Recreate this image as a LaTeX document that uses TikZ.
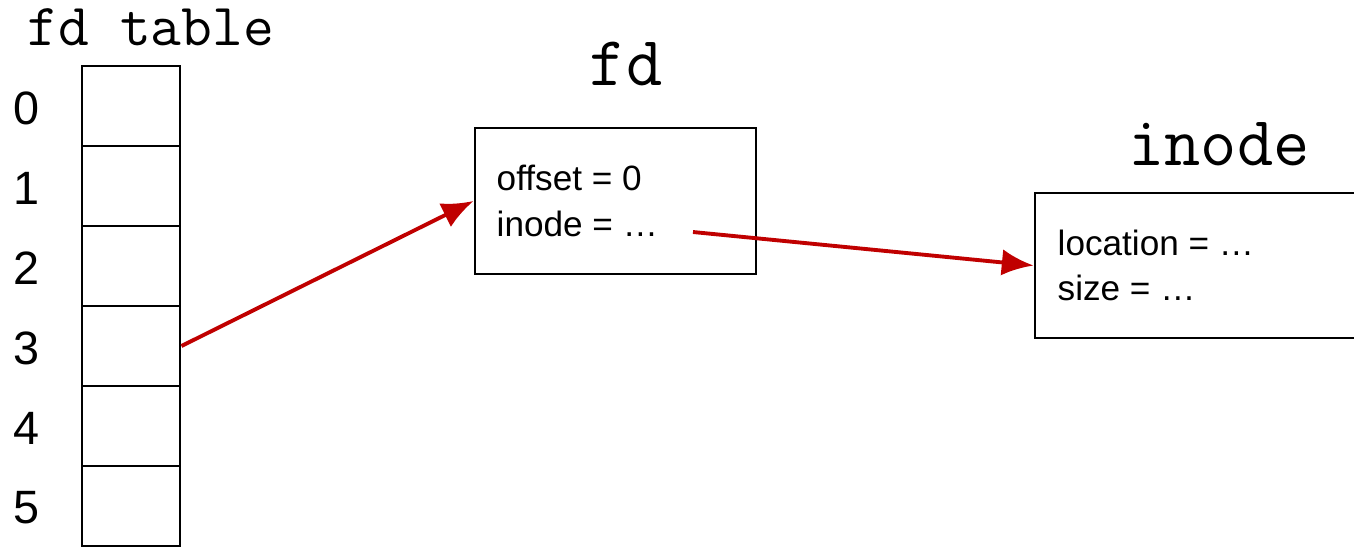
\documentclass[tikz,border=0pt]{standalone}
\usepackage{fontspec}
\setmainfont{Liberation Sans}
\usetikzlibrary{arrows.meta}
\definecolor{ink}{HTML}{000000}
\definecolor{ptr}{HTML}{C00000}

\begin{document}
\begin{tikzpicture}[x=0.01cm,y=-0.01cm,text=ink,>={Latex[length=9pt,width=7.5pt]},
  cell/.style={draw=ink,line width=0.8pt,minimum width=0.98cm,
               minimum height=0.8cm,inner sep=0pt},
  record/.style={draw=ink,line width=0.8pt,inner sep=0pt},
  field/.style={inner sep=0pt,anchor=base west,font=\fontsize{10}{12}\selectfont},
  title/.style={inner sep=0pt,anchor=base,font=\ttfamily},
  link/.style={ptr,line width=1.1pt,->}]
  \useasboundingbox (0,0) rectangle (1354,547);

  % fd table
  \node[title,font=\ttfamily\fontsize{17}{20}\selectfont] (tabletitle)
    at (151,45) {fd table};
  \foreach \i in {0,...,5} {
    \node[cell] (c\i) at (131,{106+80*\i}) {};
    \node[inner sep=0pt,font=\fontsize{13.3}{16}\selectfont] (n\i)
      at (27,{108+80*\i}) {\i};
  }

  % open file
  \node[title,font=\ttfamily\fontsize{20}{24}\selectfont] (fdtitle)
    at (626,85) {fd};
  \node[record,minimum width=2.81cm,minimum height=1.46cm] (fdbox)
    at (615.5,201) {};
  \node[field] (offset) at (496,190) {offset = 0};
  \node[field] (inodefield) at (496,236.5) {inode = …};
  \coordinate (inoderef) at (693,232);

  % inode
  \node[title,font=\ttfamily\fontsize{20}{24}\selectfont] (inodetitle)
    at (1219,165) {inode};
  \node[record,minimum width=3.3cm,minimum height=1.45cm] (inodebox)
    at (1200,265.5) {};
  \node[field] (location) at (1057,255) {location = …};
  \node[field] (size) at (1057,300) {size = …};

  \draw[link] (c3.east) -- (fdbox.west);
  \draw[link] (inoderef) -- (inodebox.west);
\end{tikzpicture}
\end{document}
